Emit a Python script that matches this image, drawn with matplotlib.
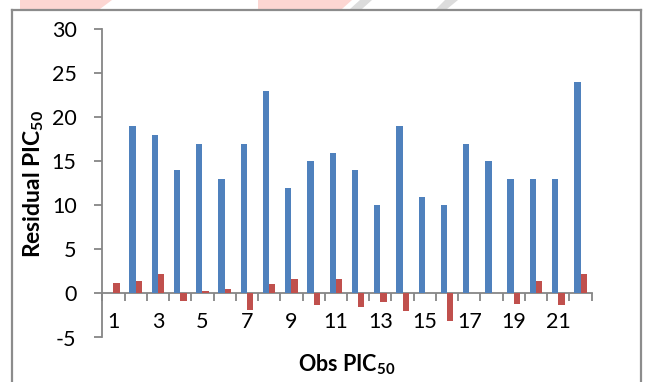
import numpy as np
import matplotlib
matplotlib.use("Agg")
import matplotlib.pyplot as plt
from matplotlib.patches import Polygon
from matplotlib.lines import Line2D

plt.rcParams['font.family'] = ['Lato', 'DejaVu Sans']
plt.rcParams['mathtext.fontset'] = 'custom'
plt.rcParams['mathtext.rm'] = 'Lato'
plt.rcParams['mathtext.bf'] = 'Lato:bold'

# observation number and the two bar series
obs = list(range(1, 23))
blue_vals = [0, 19, 18, 14, 17, 13, 17, 23, 12, 15, 16,
             14, 10, 19, 11, 10, 17, 15, 13, 13, 13, 24]
red_vals = [1.2, 1.4, 2.2, -0.8, 0.3, 0.5, -1.9, 1.1, 1.7, -1.3, 1.6,
            -1.5, -1.0, -2.0, 0.0, -3.1, 0.1, 0.0, -1.2, 1.4, -1.3, 2.2]
xtick_labels = [str(i) for i in range(1, 22, 2)]
yticks = [-5, 0, 5, 10, 15, 20, 25, 30]

W, H = 646, 382
fig = plt.figure(figsize=(W / 100, H / 100), dpi=100)


def px(x0, y0, x1, y1):
    return [x0 / W, 1 - y1 / H, (x1 - x0) / W, (y1 - y0) / H]


ax = fig.add_axes(px(102.3, 29.3, 591.7, 337.5))

gray = '#868686'
x = np.array(obs)
w = 1 / 3.5
ax.bar(x - w / 2, blue_vals, width=w, color='#4F81BD', zorder=3)
ax.bar(x + w / 2, red_vals, width=w, color='#C0504D', zorder=3)

ax.set_xlim(0.5, 22.5)
ax.set_ylim(-5, 30)

for s in ['top', 'right']:
    ax.spines[s].set_visible(False)
ax.spines['bottom'].set_position(('data', 0))
ax.spines['bottom'].set_color(gray)
ax.spines['left'].set_color(gray)
ax.spines['bottom'].set_linewidth(1.3)
ax.spines['left'].set_linewidth(1.3)

ax.set_yticks(yticks)
ax.set_yticklabels([str(v) for v in yticks])
ax.tick_params(axis='y', direction='out', length=5.5, width=1.3, color=gray,
               pad=13, labelsize=15.5)

ax.set_xticks(list(range(1, 22, 2)))
ax.set_xticklabels(xtick_labels)
ax.set_xticks(np.arange(0.5, 23, 1), minor=True)
ax.tick_params(axis='x', which='major', length=0, pad=13, labelsize=15.5)
ax.tick_params(axis='x', which='minor', direction='out', length=5.5,
               width=1.3, color=gray)

# axis titles
fig.text(34 / W, 1 - 184 / H, r'Residual PIC$_{\mathbf{50}}$', fontsize=16.5,
         fontweight='bold', rotation=90, ha='center', va='center')
fig.text(347 / W, 1 - 365 / H, r'Obs PIC$_{\mathbf{50}}$', fontsize=15.5,
         fontweight='bold', ha='center', va='center')

# chart border
for xs, ys in [([12, 12], [9.5, 382]), ([12, 640.5], [9.5, 9.5]),
               ([640.5, 640.5], [9.5, 382])]:
    fig.add_artist(Line2D([v / W for v in xs], [1 - v / H for v in ys],
                          color='#8c8c8c', lw=1.6))

# faint page decoration above the chart
for pts, c in [([(20, 0), (112, 0), (100, 9), (20, 9)], '#fcd6d2'),
               ([(258, 0), (352, 0), (342, 9), (258, 9)], '#fcd6d2'),
               ([(360, 0), (372, 0), (362, 9), (350, 9)], '#dcdcdc'),
               ([(445, 0), (458, 0), (447, 9), (436, 9)], '#dcdcdc')]:
    fig.add_artist(Polygon([(a / W, 1 - b / H) for a, b in pts],
                           closed=True, facecolor=c, edgecolor='none'))

fig.savefig('out.png', dpi=100)
